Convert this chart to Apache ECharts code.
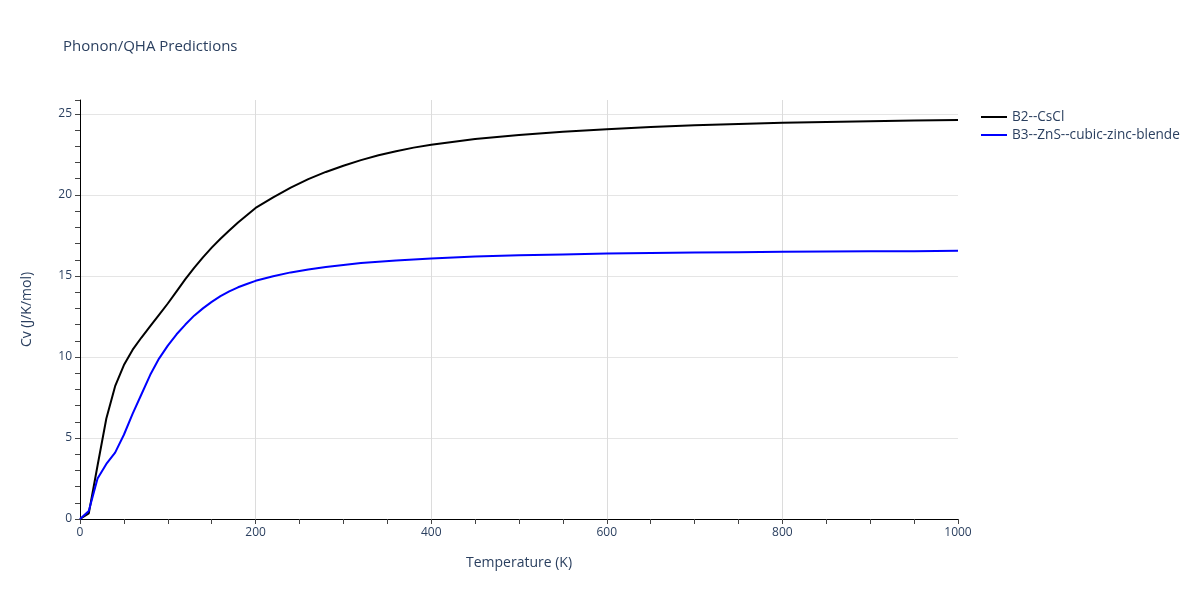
<!DOCTYPE html>
<html>
<head>
<meta charset="utf-8">
<script src="https://cdn.jsdelivr.net/npm/echarts@6/dist/echarts.min.js"></script>
<style>html,body{margin:0;padding:0;background:#fff}#c{width:1200px;height:600px}</style>
</head>
<body>
<div id="c"></div>
<script>
const temperatures = [0,10,20,30,40,50,60,70,80,90,100,110,120,130,140,150,160,170,180,190,200,220,240,260,280,300,320,340,360,380,400,450,500,550,600,650,700,750,800,850,900,950,1000];
const cvCsCl = [0,0.35,3.3,6.2,8.2,9.5,10.45,11.2,11.9,12.6,13.3,14.05,14.8,15.5,16.15,16.75,17.3,17.8,18.3,18.75,19.2,19.85,20.45,20.98,21.42,21.8,22.15,22.45,22.7,22.92,23.1,23.45,23.7,23.9,24.05,24.2,24.3,24.38,24.45,24.5,24.55,24.6,24.63];
const cvZnS = [0,0.5,2.5,3.4,4.1,5.2,6.5,7.7,8.9,9.9,10.7,11.4,12.0,12.55,13.0,13.4,13.75,14.05,14.3,14.5,14.7,14.98,15.22,15.4,15.55,15.68,15.8,15.88,15.96,16.02,16.08,16.2,16.28,16.33,16.38,16.42,16.45,16.47,16.49,16.51,16.52,16.53,16.55];
const seriesNames = ['B2--CsCl','B3--ZnS--cubic-zinc-blende'];
const seriesColors = ['#000000','#0000ff'];

const font = '"Open Sans", "Noto Sans", sans-serif';
const txt = '#2a3f5f';
const chart = echarts.init(document.getElementById('c'));
const mk = (vals) => temperatures.map((t,i)=>[t, vals[i]]);
chart.setOption({
  animation:false,
  backgroundColor:'#fff',
  textStyle:{fontFamily:font},
  title:{text:'Phonon/QHA Predictions', left:58, top:34, textStyle:{fontFamily:font, fontSize:15, fontWeight:'normal', color:txt}},
  legend:{
    orient:'vertical', left:976, top:105, itemGap:4, itemWidth:26, itemHeight:2,
    icon:'rect',
    textStyle:{fontFamily:font, fontSize:13.6, color:txt},
    data:seriesNames
  },
  grid:{left:80, right:242, top:100, bottom:81, containLabel:false},
  xAxis:{
    type:'value', min:0, max:1000, interval:200,
    name:'Temperature (K)', nameLocation:'middle', nameGap:37,
    nameTextStyle:{fontFamily:font, fontSize:14, color:txt},
    axisLine:{show:true, lineStyle:{color:'#000', width:1}},
    axisTick:{show:true, inside:false, length:5, lineStyle:{color:'#444'}},
    minorTick:{show:true, splitNumber:4, length:5, lineStyle:{color:'#444'}},
    axisLabel:{fontFamily:font, fontSize:12, color:txt, margin:8, formatter:(v)=>String(v)},
    splitLine:{show:true, showMaxLine:false, lineStyle:{color:'#dcdcdc', width:1}}
  },
  yAxis:{
    type:'value', min:0, max:25.86, interval:5,
    name:'Cv (J/K/mol)', nameLocation:'middle', nameGap:46,
    nameTextStyle:{fontFamily:font, fontSize:14, color:txt},
    axisLine:{show:true, lineStyle:{color:'#000', width:1}},
    axisTick:{show:true, inside:false, length:5, lineStyle:{color:'#444'}},
    minorTick:{show:true, splitNumber:5, length:5, lineStyle:{color:'#444'}},
    axisLabel:{fontFamily:font, fontSize:12, color:txt, margin:8, showMaxLabel:false},
    splitLine:{show:true, showMaxLine:false, lineStyle:{color:'#e5e5e5', width:1}}
  },
  series:[
    {name:seriesNames[0], type:'line', data:mk(cvCsCl), symbol:'none', smooth:false, lineStyle:{color:seriesColors[0], width:2}, itemStyle:{color:seriesColors[0]}},
    {name:seriesNames[1], type:'line', data:mk(cvZnS), symbol:'none', smooth:false, lineStyle:{color:seriesColors[1], width:2}, itemStyle:{color:seriesColors[1]}}
  ]
});
</script>
</body>
</html>
